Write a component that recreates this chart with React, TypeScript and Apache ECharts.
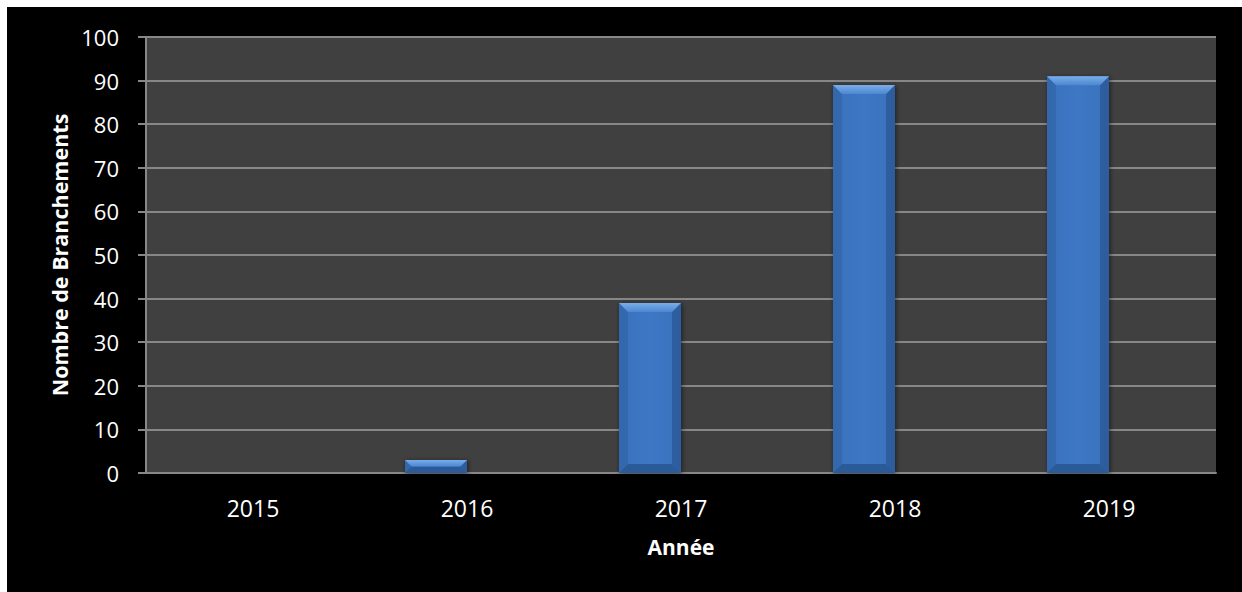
import React, { useEffect, useRef } from "react";
import * as echarts from "echarts";

const years = ["2015", "2016", "2017", "2018", "2019"];
const branchements = [0, 3, 39, 89, 91];
const yTicks = { min: 0, max: 100, interval: 10 };

export default function App() {
  const ref = useRef<HTMLDivElement>(null);
  useEffect(() => {
    if (!ref.current) return;
    const chart = echarts.init(ref.current, null, { renderer: "svg" });
    const font = "'Open Sans', 'Noto Sans', sans-serif";
    const barW = 62;
    const renderBar = (params: any, api: any) => {
      const idx = api.value(0);
      const v = api.value(1);
      if (!v) return null;
      const top = api.coord([idx, v]);
      const base = api.coord([idx, 0]);
      const x2 = top[0];
      const x1 = x2 - barW;
      const y1 = top[1];
      const y2 = base[1];
      const h = y2 - y1;
      const b = Math.min(9, h / 2);
      return {
        type: "group",
        children: [
          {
            type: "rect",
            shape: { x: x1, y: y1, width: barW, height: h },
            style: {
              fill: new echarts.graphic.LinearGradient(0, 0, 1, 0, [
                { offset: 0, color: "#2f63a6" },
                { offset: 0.15, color: "#3a73bf" },
                { offset: 0.5, color: "#3d78c5" },
                { offset: 0.85, color: "#3a73bf" },
                { offset: 1, color: "#2f63a6" },
              ]),
              shadowColor: "rgba(0,0,0,0.55)",
              shadowBlur: 5,
              shadowOffsetX: 1,
              shadowOffsetY: 1,
            },
          },
          {
            type: "polygon",
            shape: { points: [[x1, y1], [x1 + b, y1 + b], [x1 + b, y2 - b], [x1, y2]] },
            style: { fill: "#3468ad", opacity: 0.9 },
          },
          {
            type: "polygon",
            shape: { points: [[x2, y1], [x2 - b, y1 + b], [x2 - b, y2 - b], [x2, y2]] },
            style: { fill: "#2c5c9c", opacity: 0.9 },
          },
          {
            type: "polygon",
            shape: { points: [[x1, y2], [x1 + b, y2 - b], [x2 - b, y2 - b], [x2, y2]] },
            style: { fill: "#2b5a98" },
          },
          {
            type: "polygon",
            shape: { points: [[x1, y1], [x2, y1], [x2 - b, y1 + b], [x1 + b, y1 + b]] },
            style: {
              fill: new echarts.graphic.LinearGradient(0, 0, 0, 1, [
                { offset: 0, color: "#7aaeea" },
                { offset: 1, color: "#4d87d0" },
              ]),
            },
          },
        ],
      };
    };
    chart.setOption({
      animation: false,
      backgroundColor: "#000000",
      textStyle: { fontFamily: font },
      grid: {
        left: 139,
        top: 30,
        right: 26,
        bottom: 119,
        show: true,
        backgroundColor: "#404040",
        borderWidth: 0,
      },
      xAxis: {
        type: "category",
        data: years,
        name: "Année",
        nameLocation: "middle",
        nameGap: 63,
        nameTextStyle: { color: "#ffffff", fontSize: 21, fontWeight: "bold", fontFamily: font },
        axisLine: { show: true, lineStyle: { color: "#878787", width: 2 } },
        axisTick: { show: false },
        axisLabel: { color: "#ffffff", fontSize: 23, margin: 23, fontFamily: font },
        splitLine: { show: false },
      },
      yAxis: {
        type: "value",
        min: yTicks.min,
        max: yTicks.max,
        interval: yTicks.interval,
        name: "Nombre de Branchements",
        nameLocation: "middle",
        nameGap: 76,
        nameRotate: 90,
        nameTextStyle: { color: "#ffffff", fontSize: 21.5, fontWeight: "bold", fontFamily: font },
        axisLine: { show: true, lineStyle: { color: "#878787", width: 2 } },
        axisTick: { show: true, length: 8, lineStyle: { color: "#878787", width: 2 } },
        axisLabel: { color: "#ffffff", fontSize: 22, margin: 27, fontFamily: font },
        splitLine: { show: true, lineStyle: { color: "#878787", width: 2 } },
      },
      series: [
        {
          type: "custom",
          name: "Branchements",
          renderItem: renderBar,
          encode: { x: 0, y: 1 },
          data: branchements.map((v, i) => [i, v]),
        },
      ],
    });
    return () => chart.dispose();
  }, []);
  return (
    <div
      ref={ref}
      style={{ position: "absolute", left: 7, top: 7, width: 1235, height: 585 }}
    />
  );
}
